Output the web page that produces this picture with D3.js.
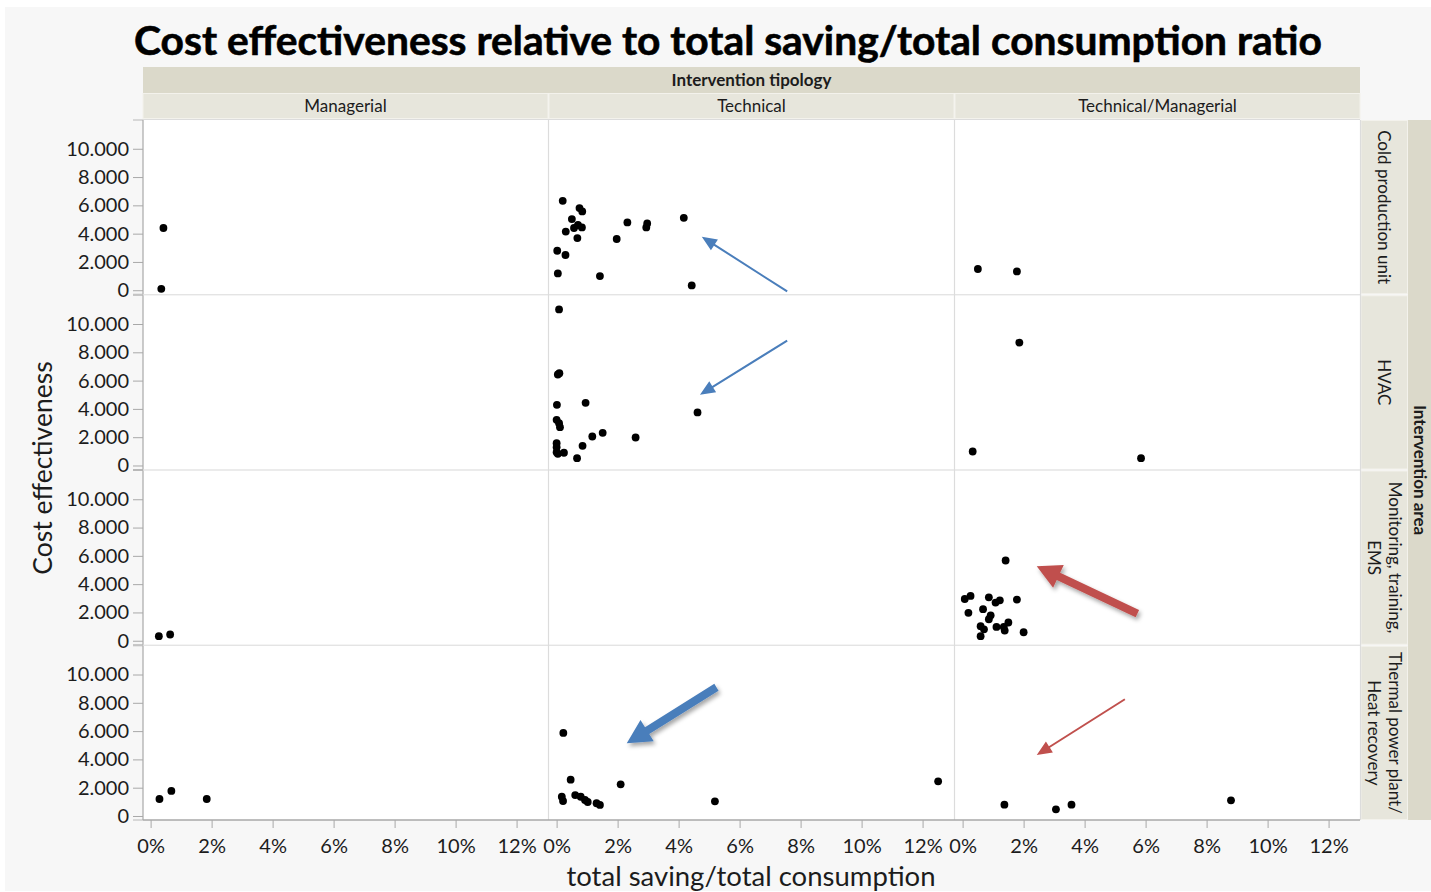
<!DOCTYPE html>
<html>
<head>
<meta charset="utf-8">
<script src="https://cdn.jsdelivr.net/npm/d3@7"></script>
<style>
  html, body { margin: 0; padding: 0; background: #ffffff; }
  svg { display: block; }
  text { font-family: Lato, "Open Sans", sans-serif; fill: #1c1c1c; }
</style>
</head>
<body>
<svg id="chart" width="1431" height="892"></svg>
<script>
// ---- facet labels and ticks ----
const typologies = ["Managerial", "Technical", "Technical/Managerial"];
const areas = [
  ["Cold production unit"],
  ["HVAC"],
  ["Monitoring, training,", "EMS"],
  ["Thermal power plant/", "Heat recovery"]
];
const yTicks = [0, 2000, 4000, 6000, 8000, 10000];
const xTicks = [0, 0.02, 0.04, 0.06, 0.08, 0.10, 0.12];

// ---- observations: [saving ratio (%), cost effectiveness] ----
const coldManagerial = [[0.42, 4400], [0.35, 100]];
const coldTechnical = [
  [0.20, 6320], [0.75, 5810], [0.84, 5570], [0.50, 5030], [0.30, 4150],
  [0.57, 4400], [0.70, 4610], [0.83, 4440], [0.68, 3690], [0.02, 2790],
  [0.29, 2490], [0.04, 1190], [1.42, 1000], [1.97, 3620], [2.32, 4790],
  [2.97, 4720], [2.94, 4440], [4.17, 5120], [4.43, 340]
];
const coldTechManagerial = [[0.50, 1500], [1.78, 1330]];

const hvacManagerial = [];
const hvacTechnical = [
  [0.08, 11030], [0.04, 6430], [0.09, 6520], [0.01, 4290], [0.95, 4430],
  [0.00, 3230], [0.08, 2990], [0.11, 2710], [0.00, 1580], [0.00, 1290],
  [0.00, 940], [0.04, 830], [0.24, 900], [0.67, 520], [0.85, 1390],
  [1.17, 2050], [1.51, 2310], [2.59, 1980], [4.62, 3750]
];
const hvacTechManagerial = [[1.86, 8690], [0.33, 990], [5.85, 520]];

const monitoringManagerial = [[0.27, 320], [0.64, 440]];
const monitoringTechnical = [];
const monitoringTechManagerial = [
  [1.41, 5670], [0.07, 2950], [0.26, 3170], [0.86, 3070], [1.08, 2700],
  [1.22, 2860], [1.78, 2910], [0.19, 1970], [0.67, 2230], [0.92, 1800],
  [0.86, 1520], [0.59, 1030], [0.70, 810], [1.11, 980], [1.35, 980],
  [1.50, 1290], [1.38, 720], [0.59, 320], [2.00, 600]
];

const thermalManagerial = [[0.29, 1200], [0.68, 1770], [1.84, 1200]];
const thermalTechnical = [
  [0.22, 5870], [0.46, 2570], [2.10, 2240], [0.17, 1360], [0.21, 1060],
  [0.61, 1480], [0.79, 1360], [0.93, 1130], [1.02, 990], [1.31, 900],
  [1.42, 780], [5.19, 1040], [12.51, 2450]
];
const thermalTechManagerial = [[1.37, 800], [3.06, 470], [3.57, 800], [8.80, 1110]];

// annotation arrows: [row, col, tail %, tail value, tip %, tip value, colour]
const thinArrows = [
  [0, 1, 7.56, -85, 4.76, 3780, "#4a7ebb"],
  [1, 1, 7.56, 8830, 4.70, 5000, "#4a7ebb"],
  [3, 2, 5.32, 8250, 2.43, 4310, "#c0504d"]
];
const thickArrows = [
  [2, 2, 5.73, 1920, 2.43, 5270, "#c0504d"],
  [3, 1, 5.24, 9100, 2.30, 5140, "#4a7ebb"]
];

const facetData = [
  [coldManagerial, coldTechnical, coldTechManagerial],
  [hvacManagerial, hvacTechnical, hvacTechManagerial],
  [monitoringManagerial, monitoringTechnical, monitoringTechManagerial],
  [thermalManagerial, thermalTechnical, thermalTechManagerial]
];

// ---- layout ----
const svg = d3.select("#chart");
const plotL = 143, plotR = 1360, plotT = 120, plotB = 820;
const gap = 1;
const colW = (plotR - plotL - gap * 2) / 3;
const rowH = (plotB - plotT - gap * 3) / 4;
const colX = i => plotL + i * (colW + gap);
const rowY = j => plotT + j * (rowH + gap);

const xScales = typologies.map((_, i) =>
  d3.scaleLinear().domain([-0.0025, 0.1303]).range([colX(i), colX(i) + colW]));
const yScales = areas.map((_, j) =>
  d3.scaleLinear().domain([-283, 12032]).range([rowY(j) + rowH, rowY(j)]));

const fmtY = v => d3.format(",")(v).replace(/,/g, ".");
const fmtX = d3.format(".0%");

// page background
svg.append("rect").attr("x", 5).attr("y", 7).attr("width", 1426).attr("height", 884)
  .attr("fill", "#f7f7f7");

// title
const title = svg.append("text")
  .attr("x", 728).attr("y", 55)
  .attr("text-anchor", "middle")
  .style("font-weight", 700).style("font-size", "36px").style("fill", "#000")
  .style("stroke", "#000").style("stroke-width", 0.6)
  .text("Cost effectiveness relative to total saving/total consumption ratio");
{
  const w = title.node().getComputedTextLength();
  title.style("font-size", (36 * 1188 / w).toFixed(2) + "px");
}

// strips: top header
svg.append("rect").attr("x", plotL).attr("y", 67).attr("width", plotR - plotL).attr("height", 26)
  .attr("fill", "#dbd9ca");
svg.append("text").attr("x", (plotL + plotR) / 2).attr("y", 86)
  .attr("text-anchor", "middle").style("font-weight", 700).style("font-size", "17px")
  .text("Intervention tipology");

typologies.forEach((t, i) => {
  svg.append("rect").attr("x", colX(i)).attr("y", 93.5).attr("width", colW).attr("height", 25)
    .attr("fill", "#e7e6dc").attr("stroke", "#f3f2ec").attr("stroke-width", 1);
  svg.append("text").attr("x", colX(i) + colW / 2).attr("y", 112)
    .attr("text-anchor", "middle").style("font-size", "17px").text(t);
});

// strips: right side
svg.append("rect").attr("x", 1408).attr("y", plotT).attr("width", 23).attr("height", plotB - plotT)
  .attr("fill", "#dbd9ca");
svg.append("text")
  .attr("transform", `translate(1414,${(plotT + plotB) / 2}) rotate(90)`)
  .attr("text-anchor", "middle").style("font-weight", 700).style("font-size", "17px")
  .text("Intervention area");

areas.forEach((lines, j) => {
  svg.append("rect").attr("x", 1361).attr("y", rowY(j) + 0.5).attr("width", 46.5).attr("height", rowH - 1)
    .attr("fill", "#e7e6dc").attr("stroke", "#f3f2ec").attr("stroke-width", 1);
  const cy = rowY(j) + rowH / 2;
  const n = lines.length;
  lines.forEach((ln, k) => {
    const cx = 1384 + ((n - 1) / 2 - k) * 21;
    svg.append("text")
      .attr("transform", `translate(${cx - 6},${cy}) rotate(90)`)
      .attr("text-anchor", "middle").style("font-size", "17px").text(ln);
  });
});

// panels
const panels = svg.append("g");
areas.forEach((_, j) => {
  typologies.forEach((_, i) => {
    panels.append("rect").attr("x", colX(i)).attr("y", rowY(j)).attr("width", colW).attr("height", rowH)
      .attr("fill", "#ffffff");
  });
});
// separators between panels
const sep = svg.append("g").attr("stroke", "#dcdcdc").attr("stroke-width", 1.2).attr("fill", "none");
[1, 2].forEach(i => sep.append("line")
  .attr("x1", colX(i) - 0.5).attr("x2", colX(i) - 0.5).attr("y1", plotT).attr("y2", plotB));
[1, 2, 3].forEach(j => sep.append("line")
  .attr("x1", plotL).attr("x2", plotR).attr("y1", rowY(j) - 0.5).attr("y2", rowY(j) - 0.5));
sep.append("line").attr("x1", plotL).attr("x2", plotR).attr("y1", plotT - 0.5).attr("y2", plotT - 0.5);
sep.append("line").attr("x1", plotR + 0.5).attr("x2", plotR + 0.5).attr("y1", plotT).attr("y2", plotB);

// y axes, one per row
areas.forEach((_, j) => {
  const y = yScales[j];
  const g = svg.append("g").attr("transform", `translate(${plotL},0)`);
  g.call(d3.axisLeft(y).tickValues(yTicks).tickFormat(fmtY).tickSize(10).tickPadding(4));
  g.select(".domain").remove();
  g.selectAll(".tick line").attr("stroke", "#a8a8a8");
  g.selectAll(".tick text").style("font-size", "20px").style("font-family", "Lato, 'Open Sans', sans-serif")
    .attr("fill", "#1c1c1c");
  // row edge marks
  [rowY(j), rowY(j) + rowH].forEach(v => g.append("line")
    .attr("x1", -10).attr("x2", 0).attr("y1", v).attr("y2", v).attr("stroke", "#b8b8b8"));
  g.append("line").attr("x1", 0).attr("x2", 0).attr("y1", rowY(j)).attr("y2", rowY(j) + rowH)
    .attr("stroke", "#a8a8a8").attr("stroke-width", 1.2);
});

// x axes, one per column
typologies.forEach((_, i) => {
  const g = svg.append("g").attr("transform", `translate(0,${plotB})`);
  g.call(d3.axisBottom(xScales[i]).tickValues(xTicks).tickFormat(fmtX).tickSize(8).tickPadding(11));
  g.select(".domain").remove();
  g.selectAll(".tick line").attr("stroke", "#a8a8a8");
  g.selectAll(".tick text").style("font-size", "20px").style("font-family", "Lato, 'Open Sans', sans-serif")
    .attr("fill", "#1c1c1c");
});
svg.append("line").attr("x1", plotL).attr("x2", plotR).attr("y1", plotB).attr("y2", plotB)
  .attr("stroke", "#a8a8a8").attr("stroke-width", 1.5);

// axis titles
svg.append("text").attr("transform", "translate(52,468) rotate(-90)")
  .attr("text-anchor", "middle").style("font-size", "26.5px").text("Cost effectiveness");
svg.append("text").attr("x", 751).attr("y", 886)
  .attr("text-anchor", "middle").style("font-size", "27.5px").text("total saving/total consumption");

// points
const dots = svg.append("g");
facetData.forEach((row, j) => {
  row.forEach((pts, i) => {
    dots.selectAll(null).data(pts).enter().append("circle")
      .attr("cx", d => xScales[i](d[0] / 100))
      .attr("cy", d => yScales[j](d[1]))
      .attr("r", 3.9)
      .attr("fill", "#000");
  });
});

// annotation arrows
const defs = svg.append("defs");
const shadow = defs.append("filter").attr("id", "arrowShadow")
  .attr("x", "-30%").attr("y", "-30%").attr("width", "160%").attr("height", "160%");
shadow.append("feDropShadow").attr("dx", 2).attr("dy", 3).attr("stdDeviation", 2)
  .attr("flood-color", "#000").attr("flood-opacity", 0.35);

function arrowPolygon(x1, y1, x2, y2, shaftW, headL, headW) {
  const dx = x2 - x1, dy = y2 - y1, len = Math.hypot(dx, dy);
  const ux = dx / len, uy = dy / len, px = -uy, py = ux;
  const bx = x2 - ux * headL, by = y2 - uy * headL;
  const pts = [
    [x1 + px * shaftW / 2, y1 + py * shaftW / 2],
    [bx + px * shaftW / 2, by + py * shaftW / 2],
    [bx + px * headW / 2, by + py * headW / 2],
    [x2, y2],
    [bx - px * headW / 2, by - py * headW / 2],
    [bx - px * shaftW / 2, by - py * shaftW / 2],
    [x1 - px * shaftW / 2, y1 - py * shaftW / 2]
  ];
  return pts.map(p => p.join(",")).join(" ");
}

const ann = svg.append("g");
thinArrows.forEach(([j, i, tx, tv, hx, hv, c]) => {
  const x1 = xScales[i](tx / 100), y1 = yScales[j](tv);
  const x2 = xScales[i](hx / 100), y2 = yScales[j](hv);
  ann.append("polygon").attr("points", arrowPolygon(x1, y1, x2, y2, 2, 15, 13)).attr("fill", c);
});
thickArrows.forEach(([j, i, tx, tv, hx, hv, c]) => {
  const x1 = xScales[i](tx / 100), y1 = yScales[j](tv);
  const x2 = xScales[i](hx / 100), y2 = yScales[j](hv);
  ann.append("polygon").attr("points", arrowPolygon(x1, y1, x2, y2, 8, 24, 25))
    .attr("fill", c).attr("filter", "url(#arrowShadow)");
});
</script>
</body>
</html>
